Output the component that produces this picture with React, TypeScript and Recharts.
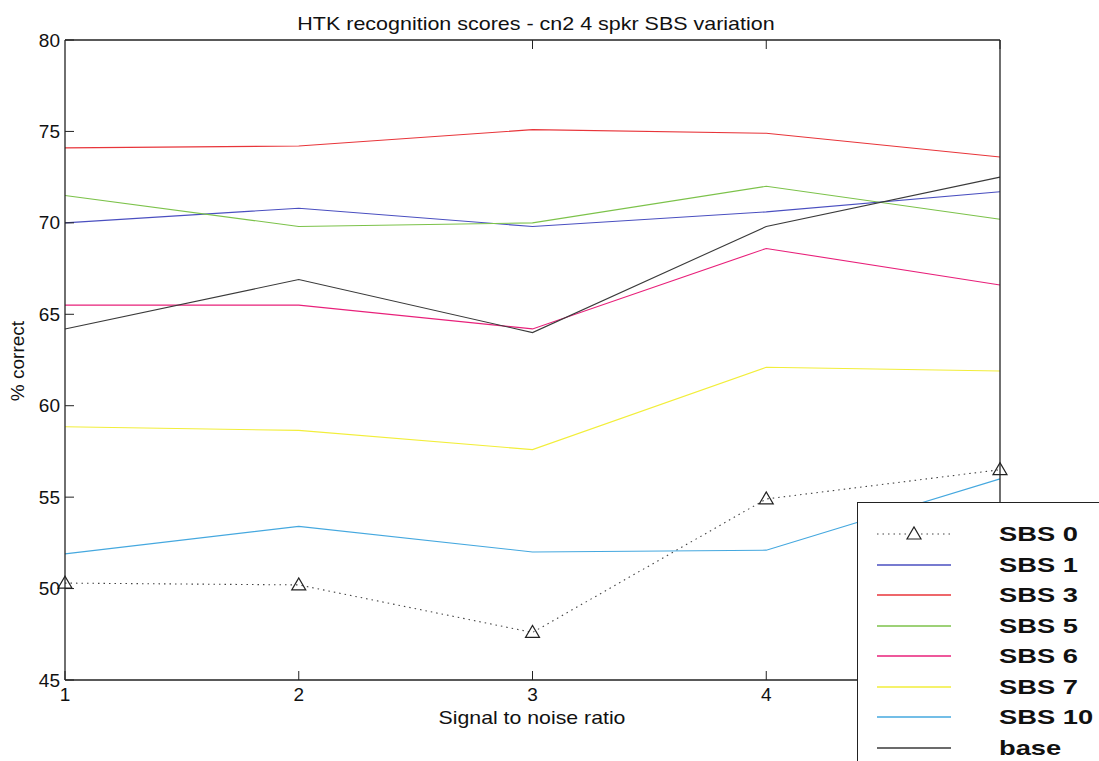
import { LineChart, Line, XAxis, YAxis } from 'recharts';

const snr = [1, 2, 3, 4, 5];
const sbs0 = [50.3, 50.2, 47.6, 54.9, 56.5];
const sbs1 = [70.0, 70.8, 69.8, 70.6, 71.7];
const sbs3 = [74.1, 74.2, 75.1, 74.9, 73.6];
const sbs5 = [71.5, 69.8, 70.0, 72.0, 70.2];
const sbs6 = [65.5, 65.5, 64.2, 68.6, 66.6];
const sbs7 = [58.85, 58.65, 57.6, 62.1, 61.9];
const sbs10 = [51.9, 53.4, 52.0, 52.1, 56.0];
const base = [64.2, 66.9, 64.0, 69.8, 72.5];

const yTicks = [45, 50, 55, 60, 65, 70, 75, 80];
const xTicks = [1, 2, 3, 4, 5];
// the "5" label sits under the legend box in the original
const hiddenXLabels = [5];

const series = [
  { key: 'sbs0', name: 'SBS 0', values: sbs0, color: '#444' },
  { key: 'sbs1', name: 'SBS 1', values: sbs1, color: '#4a4fc0' },
  { key: 'sbs3', name: 'SBS 3', values: sbs3, color: '#e8353a' },
  { key: 'sbs5', name: 'SBS 5', values: sbs5, color: '#7cc24a' },
  { key: 'sbs6', name: 'SBS 6', values: sbs6, color: '#e8207a' },
  { key: 'sbs7', name: 'SBS 7', values: sbs7, color: '#f2ee3a' },
  { key: 'sbs10', name: 'SBS 10', values: sbs10, color: '#45a8df' },
  { key: 'base', name: 'base', values: base, color: '#3a3a3a' },
];

const data = snr.map((x, i) => {
  const row: Record<string, number> = { snr: x };
  series.forEach((s) => (row[s.key] = s.values[i]));
  return row;
});

const font = '"Liberation Sans", Arial, sans-serif';

function Triangle(props: any) {
  const { cx, cy } = props;
  if (cx == null || cy == null) return null;
  return (
    <polygon
      points={`${cx - 7},${cy + 5} ${cx + 7},${cy + 5} ${cx},${cy - 7}`}
      fill="none"
      stroke="#222"
      strokeWidth={1.2}
    />
  );
}

const LeftTick = ({ x, y, payload }: any) => (
  <g>
    <line x1={x} x2={x + 9} y1={y} y2={y} stroke="#222" />
    <text x={x - 5} y={y} textAnchor="end" dominantBaseline="central" fontSize={19} fill="#111" fontFamily={font}>
      {payload.value}
    </text>
  </g>
);

const RightTick = ({ x, y }: any) => <line x1={x} x2={x - 9} y1={y} y2={y} stroke="#222" />;

const BottomTick = ({ x, y, payload }: any) => (
  <g>
    <line x1={x} x2={x} y1={y} y2={y - 9} stroke="#222" />
    {!hiddenXLabels.includes(payload.value) && (
      <text x={x} y={y + 14} textAnchor="middle" dominantBaseline="central" fontSize={19} fill="#111" fontFamily={font}>
        {payload.value}
      </text>
    )}
  </g>
);

const TopTick = ({ x, y }: any) => <line x1={x} x2={x} y1={y} y2={y + 9} stroke="#222" />;

export default function App() {
  return (
    <div style={{ position: 'absolute', left: 0, top: 0, width: 1099, height: 761, overflow: 'hidden', background: '#fff', fontFamily: font }}>
      <LineChart width={1099} height={761} data={data} margin={{ top: 30, right: 89, bottom: 51, left: 35 }}>
        <XAxis xAxisId="b" dataKey="snr" type="number" domain={[1, 5]} ticks={xTicks} interval={0}
          tickSize={0} tickMargin={0} height={30} tick={<BottomTick />} tickLine={false}
          axisLine={{ stroke: '#222', strokeWidth: 1.3 }} />
        <XAxis xAxisId="t" orientation="top" type="number" domain={[1, 5]} ticks={[2, 3, 4]} interval={0}
          tickSize={0} tickMargin={0} height={10} tick={<TopTick />} tickLine={false}
          axisLine={{ stroke: '#222', strokeWidth: 1.3 }} />
        <YAxis yAxisId="l" type="number" domain={[45, 80]} ticks={yTicks} interval={0}
          tickSize={0} tickMargin={0} width={30} tick={<LeftTick />} tickLine={false}
          axisLine={{ stroke: '#222', strokeWidth: 1.3 }} />
        <YAxis yAxisId="r" orientation="right" type="number" domain={[45, 80]} ticks={yTicks} interval={0}
          tickSize={0} tickMargin={0} width={10} tick={<RightTick />} tickLine={false}
          axisLine={{ stroke: '#222', strokeWidth: 1.3 }} />
        {series.map((s) =>
          s.key === 'sbs0' ? (
            <Line key={s.key} xAxisId="b" yAxisId="l" type="linear" dataKey={s.key} stroke={s.color}
              strokeWidth={1.1} strokeDasharray="1.5 4" dot={<Triangle />} activeDot={false} isAnimationActive={false} />
          ) : (
            <Line key={s.key} xAxisId="b" yAxisId="l" type="linear" dataKey={s.key} stroke={s.color}
              strokeWidth={1.1} dot={false} activeDot={false} isAnimationActive={false} />
          )
        )}
      </LineChart>

      <div style={{ position: 'absolute', left: 536, top: 24, transform: 'translate(-50%, -50%) scaleX(1.13)', fontSize: 19, color: '#111', whiteSpace: 'nowrap' }}>
        HTK recognition scores - cn2 4 spkr SBS variation
      </div>
      <div style={{ position: 'absolute', left: 532, top: 718, transform: 'translate(-50%, -50%) scaleX(1.12)', fontSize: 19, color: '#111', whiteSpace: 'nowrap' }}>
        Signal to noise ratio
      </div>
      <div style={{ position: 'absolute', left: 18, top: 361, transform: 'translate(-50%, -50%) rotate(-90deg)', fontSize: 19, color: '#111', whiteSpace: 'nowrap' }}>
        % correct
      </div>

      <div style={{ position: 'absolute', left: 857, top: 502, width: 260, height: 280, background: '#fff', borderLeft: '1.5px solid #222', borderTop: '1.5px solid #222' }}>
        {series.map((s, i) => (
          <div key={s.key} style={{ position: 'absolute', left: 0, top: 31 + i * 30.5 - 15, height: 30, width: 260 }}>
            <svg width={100} height={30} style={{ position: 'absolute', left: 0, top: 0 }}>
              {s.key === 'sbs0' ? (
                <g>
                  <line x1={19} x2={93} y1={15} y2={15} stroke={s.color} strokeWidth={1.1} strokeDasharray="1.5 4" />
                  <polygon points="49,20 63,20 56,8" fill="#fff" stroke="#222" strokeWidth={1.2} />
                </g>
              ) : (
                <line x1={19} x2={93} y1={15} y2={15} stroke={s.color} strokeWidth={1.3} />
              )}
            </svg>
            <span style={{ position: 'absolute', left: 141, top: 2, fontSize: 21, fontWeight: 'bold', color: '#111', lineHeight: '26px', transform: 'scaleX(1.3)', transformOrigin: 'left center', whiteSpace: 'nowrap' }}>
              {s.name}
            </span>
          </div>
        ))}
      </div>
    </div>
  );
}
